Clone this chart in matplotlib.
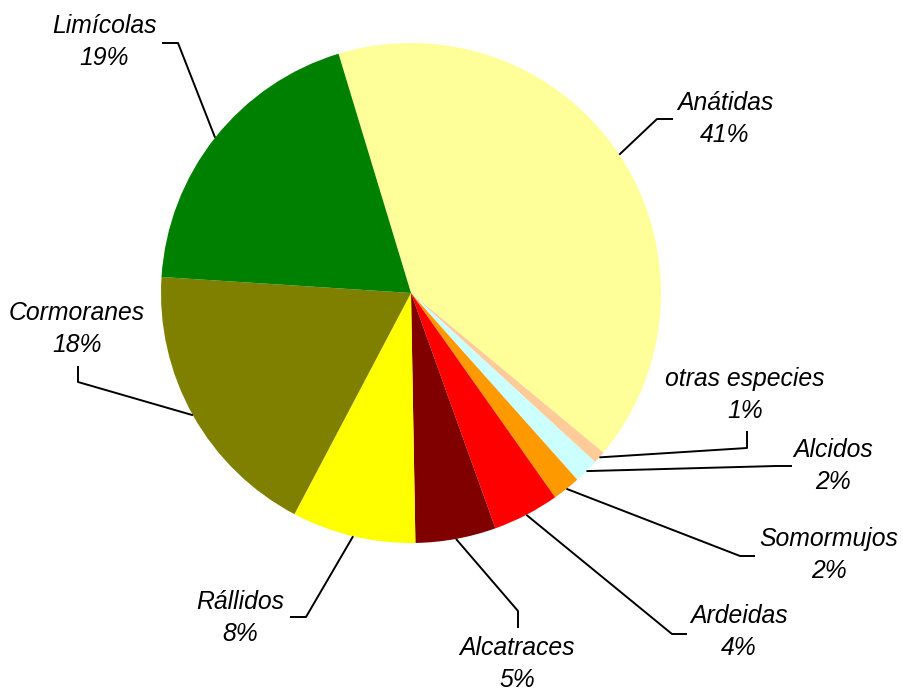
import numpy as np
import matplotlib
matplotlib.use("Agg")
import matplotlib.pyplot as plt

# ---- data ----
categories = ["Anátidas", "otras especies", "Alcidos", "Somormujos", "Ardeidas",
              "Alcatraces", "Rállidos", "Cormoranes", "Limícolas"]
values = [40.7, 0.8, 1.6, 1.8, 4.3, 5.2, 8.0, 18.3, 19.3]
colors = ["#FFFF99", "#FFCC99", "#CCFFFF", "#FF9900", "#FF0000",
          "#800000", "#FFFF00", "#808000", "#008000"]

# ---- layout (pixel coords, y from top) ----
W, H = 904, 691
center_px = (411, 293)
radius = 250
# label block center, elbow point, end point of leader line
label_pos = [(725, 119), (745, 395), (833, 466), (829, 555), (739, 632),
             (517, 664), (240, 618), (77, 329), (104, 42)]
elbow_pos = [(657, 119), (747, 448), (776, 466), (740, 556), (672, 634),
             (518, 611), (306, 617), (78, 382), (178, 43)]
end_pos = [(673, 119), (747, 431), (792, 466), (755, 556), (687, 634),
           (518, 628), (290, 617), (78, 366), (162, 43)]

def fy(y):
    return H - y

fig = plt.figure(figsize=(W / 100, H / 100), dpi=100)
ax = fig.add_axes([0, 0, 1, 1])
wedges, _ = ax.pie(values, colors=colors, startangle=106.85, counterclock=False,
                   center=(center_px[0], fy(center_px[1])), radius=radius,
                   wedgeprops=dict(linewidth=0))
ax.set_xlim(0, W)
ax.set_ylim(0, H)
ax.set_aspect("equal")
ax.axis("off")

total = sum(values)
font = dict(family=["Liberation Sans", "DejaVu Sans"], style="italic", size=17.8)
for i, w in enumerate(wedges):
    mid = np.deg2rad((w.theta1 + w.theta2) / 2)
    sx = w.center[0] + radius * np.cos(mid)
    sy = w.center[1] + radius * np.sin(mid)
    ex, ey = elbow_pos[i]
    tx, ty = end_pos[i]
    ax.plot([sx, ex, tx], [sy, fy(ey), fy(ty)], color="black", lw=1.4,
            solid_capstyle="butt")
    pct = round(values[i] / total * 100)
    lx, ly = label_pos[i]
    ax.text(lx, fy(ly), f"{categories[i]}\n{pct:.0f}%", ha="center", va="center",
            multialignment="center", linespacing=1.45, **font)

fig.savefig("out.png", dpi=100)
